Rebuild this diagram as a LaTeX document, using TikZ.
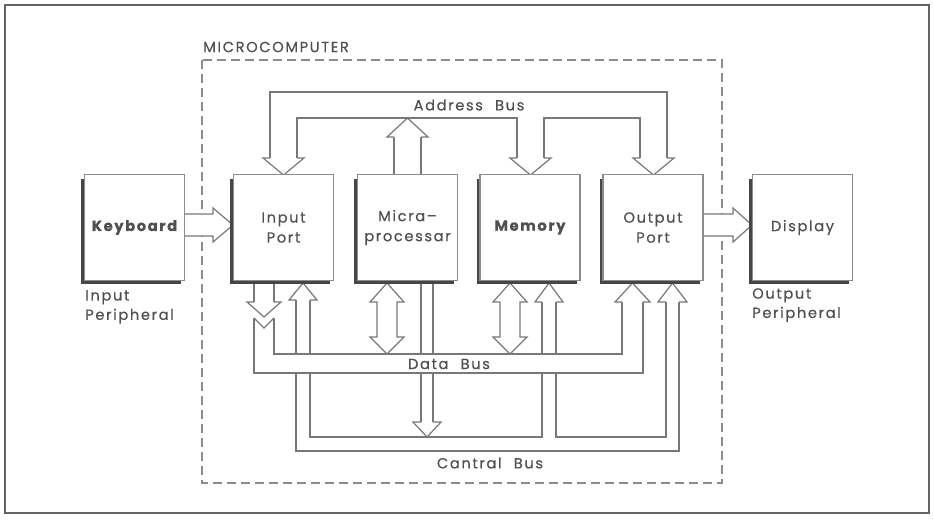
\documentclass[tikz,border=0pt]{standalone}
\usepackage{fontspec}
\setmainfont{Poppins}[LetterSpace=11, WordSpace=2.2, FakeBold=0.5]
\usetikzlibrary{shadows}
\definecolor{lncol}{RGB}{120,120,120}
\definecolor{boxcol}{RGB}{140,140,140}
\definecolor{txtcol}{RGB}{80,80,80}
\definecolor{shcol}{RGB}{70,70,70}
\definecolor{framecol}{RGB}{100,100,100}
\tikzset{
  ln/.style={draw=lncol, line width=0.9pt, line join=miter},
  hol/.style={ln, fill=white},
  unitbox/.style={draw=boxcol, line width=0.8pt, fill=white, minimum width=75pt,
    minimum height=79pt, inner sep=0pt, align=center, text=txtcol,
    font=\fontsize{11}{15}\selectfont,
    drop shadow={shadow xshift=-2.3pt, shadow yshift=-3pt, opacity=1, fill=shcol}},
  lbl/.style={text=txtcol, inner sep=0pt, font=\fontsize{11}{14.5}\selectfont},
}
\begin{document}
\begin{tikzpicture}[x=0.75pt,y=-0.75pt]
\useasboundingbox (0,0) rectangle (934,519);
% outer frame
\draw[framecol, line width=1.5pt] (5,5) rectangle (929,513);
% microcomputer dashed boundary
\draw[boxcol, line width=0.8pt, dash pattern=on 7pt off 3.5pt] (202,60) rectangle (722,483);
\node[lbl, anchor=west] (lmc) at (203,47) {MICROCOMPUTER};

% ---------------- Address bus ----------------
\draw[ln] (270,158) -- (270,92) -- (667,92) -- (667,158);
\draw[ln] (297,158) -- (297,118) -- (517,118) -- (517,158);
\draw[ln] (544,158) -- (544,118) -- (640,118) -- (640,158);
\draw[hol] (270,158) -- (263,158) -- (283.5,175) -- (304,158) -- (297,158);
\draw[hol] (517,158) -- (510,158) -- (530.5,175) -- (551,158) -- (544,158);
\draw[hol] (640,158) -- (633,158) -- (653.5,175) -- (674,158) -- (667,158);
\draw[ln] (394,175) -- (394,137);
\draw[ln] (421,175) -- (421,137);
\draw[hol] (394,137) -- (387,137) -- (407.5,118) -- (428,137) -- (421,137);
\node[lbl] (ladr) at (469,105) {Address Bus};

% ---------------- peripheral arrows ----------------
\draw[hol] (184,214) -- (213,214) -- (213,208) -- (233,225) -- (213,242) -- (213,236) -- (184,236);
\draw[hol] (703,214) -- (733,214) -- (733,208) -- (752,225) -- (733,242) -- (733,236) -- (703,236);

% ---------------- Data bus ----------------
\draw[ln] (254,318) -- (254,373) -- (643,373) -- (643,302);
\draw[ln] (274,318) -- (274,354) -- (622,354) -- (622,302);
\draw[ln] (254,318) -- (264,328) -- (274,318);
% input port -> data bus
\draw[ln] (254,281) -- (254,302);
\draw[ln] (274,281) -- (274,302);
\draw[hol] (254,302) -- (247,302) -- (264,317) -- (281,302) -- (274,302);
% data bus -> output port
\draw[hol] (622,302) -- (615,302) -- (632.5,283) -- (650,302) -- (643,302);
% microprocessor <-> data bus
\draw[hol] (377,302) -- (370,302) -- (387,283) -- (404,302) -- (397,302) -- (397,337)
  -- (404,337) -- (387,354) -- (370,337) -- (377,337) -- cycle;
% memory <-> data bus
\draw[hol] (500,302) -- (493,302) -- (510,283) -- (527,302) -- (520,302) -- (520,337)
  -- (527,337) -- (510,354) -- (493,337) -- (500,337) -- cycle;
\node[lbl] (ldata) at (449,364) {Data Bus};

% ---------------- Control bus ----------------
\draw[ln] (296,373) -- (296,451) -- (679,451) -- (679,302);
\draw[ln] (310,373) -- (310,437) -- (542,437) -- (542,373);
\draw[ln] (556,373) -- (556,437) -- (666,437) -- (666,302);
% control bus -> input port
\draw[ln] (296,300) -- (296,354);
\draw[ln] (310,300) -- (310,354);
\draw[hol] (296,300) -- (289,300) -- (303,283) -- (317,300) -- (310,300);
% control bus -> memory
\draw[ln] (542,302) -- (542,354);
\draw[ln] (556,302) -- (556,354);
\draw[hol] (542,302) -- (535,302) -- (549,283) -- (563,302) -- (556,302);
% control bus -> output port
\draw[hol] (666,302) -- (658,302) -- (672.5,283) -- (687,302) -- (679,302);
% microprocessor -> control bus
\draw[ln] (421,281) -- (421,354);
\draw[ln] (433,281) -- (433,354);
\draw[ln] (421,373) -- (421,422);
\draw[ln] (433,373) -- (433,422);
\draw[hol] (421,422) -- (413,422) -- (427,437) -- (441,422) -- (433,422);
\node[lbl] (lctrl) at (490,463) {Cantral Bus};

% ---------------- units ----------------
\node[unitbox] (kb) at (134.5,227.5) {\bfseries Keyboard};
\node[unitbox] (inp) at (283.5,227.5) {Input\\Port};
\node[unitbox] (mp) at (407.5,227.5) {Micra--\\processar};
\node[unitbox] (mem) at (530,227.5) {\bfseries Memory};
\node[unitbox] (outp) at (653,227.5) {Output\\Port};
\node[unitbox] (disp) at (802.5,227.5) {Display};

\node[lbl, anchor=north west, align=left] (linper) at (85,290) {Input\\Peripheral};
\node[lbl, anchor=north west, align=left] (loutper) at (752,288) {Output\\Peripheral};
\end{tikzpicture}
\end{document}
